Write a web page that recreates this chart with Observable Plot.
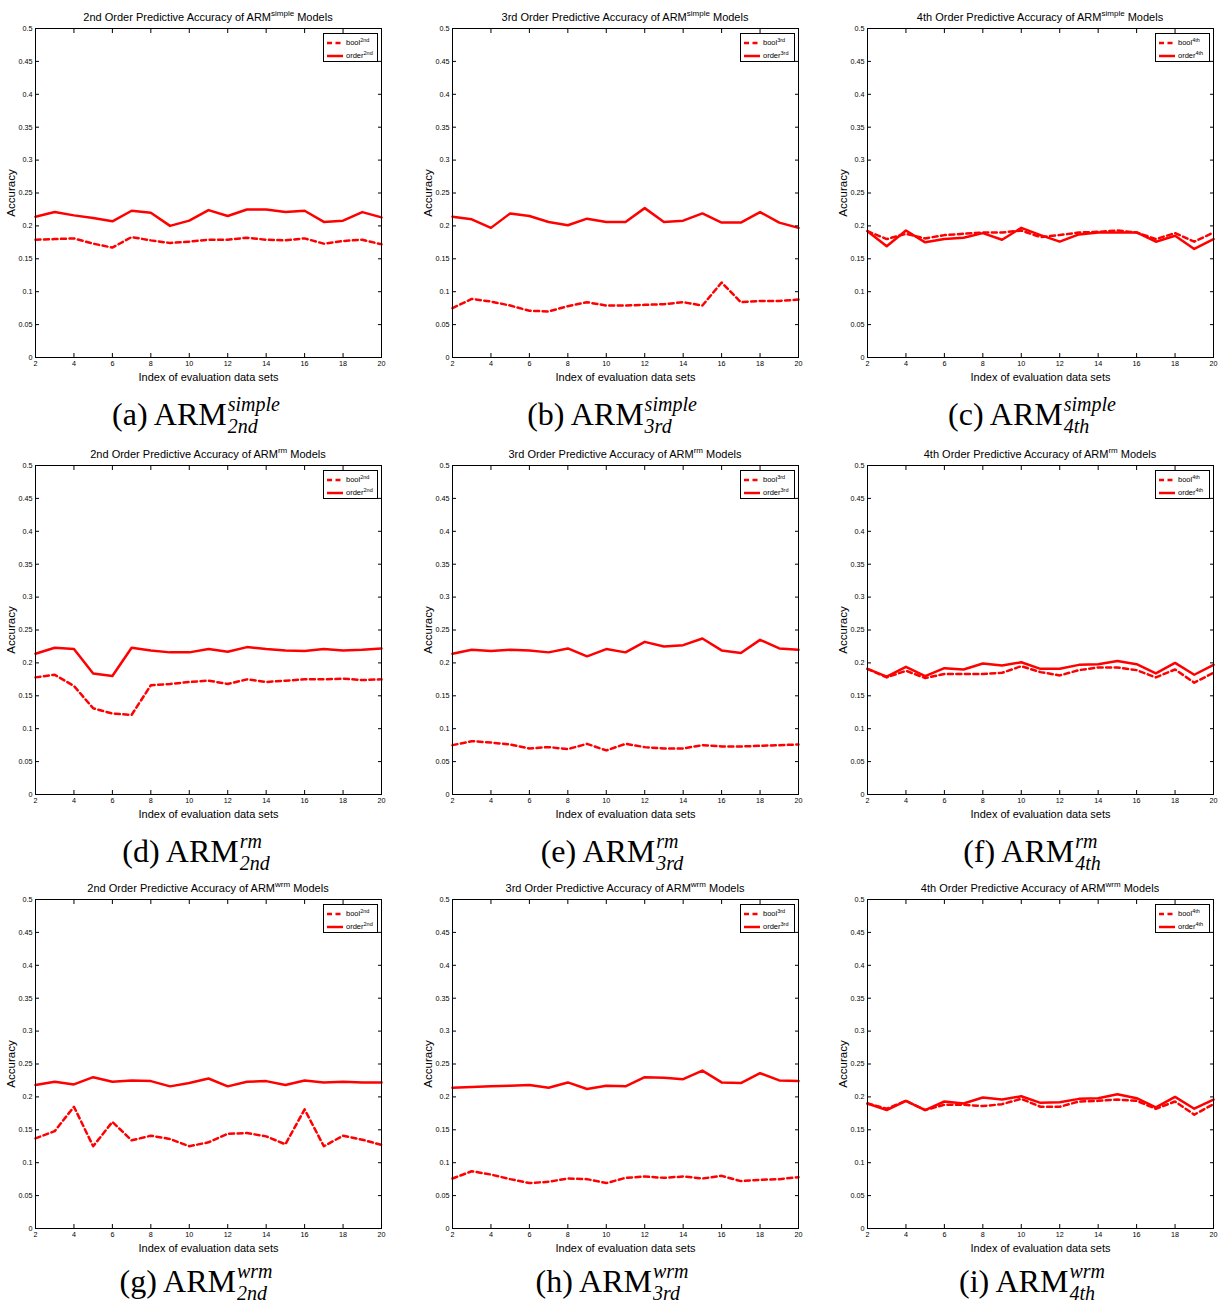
<!DOCTYPE html>
<html><head><meta charset="utf-8">
<script src="https://cdn.jsdelivr.net/npm/d3@7"></script>
<script src="https://cdn.jsdelivr.net/npm/@observablehq/plot@0.6"></script>
<style>
body{margin:0;background:#fff;}
#root{position:relative;width:1225px;height:1308px;overflow:hidden;font-family:"Liberation Sans",Arial,sans-serif;color:#000;}
.title{position:absolute;width:400px;font-size:11px;line-height:14px;text-align:center;white-space:nowrap;}
.title sup{font-size:8px;vertical-align:5px;line-height:0;}
.legend{position:absolute;border:1px solid #000;background:#fff;box-sizing:border-box;font-size:7.5px;padding-top:2px;}
.legend .lr{height:13px;display:flex;align-items:center;white-space:nowrap;}
.legend svg{margin:0 2px 0 2px;}
.legend sup{font-size:5.5px;vertical-align:3.5px;line-height:0;}
.cap{position:absolute;width:400px;text-align:center;font-family:"Liberation Serif","DejaVu Serif",serif;font-size:32px;line-height:64px;white-space:nowrap;}
.ss{display:inline-block;vertical-align:-8px;line-height:22.5px;font-size:20px;font-style:italic;text-align:left;margin-left:1px;}
.ss span{display:block;}
.panel{position:absolute;}
</style>
</head><body><div id="root"></div>
<script>
// ---------- data ----------
const dataSetIndex = [2,3,4,5,6,7,8,9,10,11,12,13,14,15,16,17,18,19,20];
const xTickValues = [2,4,6,8,10,12,14,16,18,20];
const yTickValues = [0,0.05,0.1,0.15,0.2,0.25,0.3,0.35,0.4,0.45,0.5];
const modelTypes = ["simple","rm","wrm"];
const orderNames = ["2nd","3rd","4th"];
const panelLetters = ["a","b","c","d","e","f","g","h","i"];
const xLabel = "Index of evaluation data sets";
const yLabel = "Accuracy";

// ARM simple
const simple2Bool  = [0.179,0.180,0.181,0.173,0.167,0.183,0.178,0.174,0.176,0.179,0.179,0.182,0.179,0.178,0.181,0.173,0.177,0.179,0.172];
const simple2Order = [0.214,0.221,0.216,0.212,0.207,0.223,0.220,0.200,0.208,0.224,0.215,0.225,0.225,0.221,0.223,0.206,0.208,0.221,0.213];
const simple3Bool  = [0.075,0.089,0.085,0.079,0.071,0.070,0.078,0.084,0.079,0.079,0.080,0.081,0.084,0.079,0.114,0.084,0.086,0.086,0.088];
const simple3Order = [0.214,0.210,0.197,0.219,0.215,0.206,0.201,0.211,0.206,0.206,0.227,0.206,0.208,0.219,0.205,0.205,0.221,0.205,0.197];
const simple4Bool  = [0.192,0.180,0.188,0.181,0.186,0.188,0.190,0.190,0.193,0.183,0.186,0.190,0.191,0.193,0.190,0.180,0.189,0.176,0.190];
const simple4Order = [0.192,0.169,0.193,0.175,0.180,0.182,0.189,0.179,0.197,0.186,0.176,0.187,0.190,0.190,0.190,0.176,0.185,0.165,0.180];
// ARM rm
const rm2Bool  = [0.178,0.182,0.165,0.131,0.123,0.121,0.166,0.168,0.171,0.173,0.168,0.175,0.171,0.173,0.175,0.175,0.176,0.174,0.175];
const rm2Order = [0.214,0.223,0.221,0.184,0.180,0.223,0.219,0.216,0.216,0.221,0.217,0.224,0.221,0.219,0.218,0.221,0.219,0.220,0.222];
const rm3Bool  = [0.075,0.081,0.079,0.076,0.070,0.072,0.069,0.077,0.067,0.077,0.072,0.070,0.070,0.075,0.073,0.073,0.074,0.075,0.076];
const rm3Order = [0.214,0.220,0.218,0.220,0.219,0.216,0.222,0.210,0.221,0.216,0.232,0.225,0.227,0.237,0.219,0.215,0.235,0.222,0.220];
const rm4Bool  = [0.191,0.178,0.188,0.177,0.183,0.183,0.183,0.185,0.195,0.186,0.181,0.189,0.193,0.193,0.189,0.178,0.190,0.170,0.185];
const rm4Order = [0.191,0.179,0.194,0.180,0.192,0.190,0.199,0.196,0.201,0.191,0.191,0.197,0.198,0.203,0.198,0.184,0.200,0.182,0.197];
// ARM wrm
const wrm2Bool  = [0.137,0.148,0.185,0.125,0.162,0.134,0.141,0.136,0.125,0.131,0.144,0.145,0.140,0.128,0.181,0.125,0.141,0.135,0.127];
const wrm2Order = [0.218,0.223,0.219,0.230,0.223,0.225,0.224,0.216,0.221,0.228,0.216,0.223,0.224,0.218,0.225,0.222,0.223,0.222,0.222];
const wrm3Bool  = [0.076,0.087,0.082,0.075,0.069,0.071,0.076,0.075,0.069,0.077,0.079,0.077,0.079,0.076,0.080,0.072,0.074,0.075,0.078];
const wrm3Order = [0.214,0.215,0.216,0.217,0.218,0.214,0.222,0.212,0.217,0.216,0.230,0.229,0.227,0.240,0.222,0.221,0.236,0.225,0.224];
const wrm4Bool  = [0.190,0.182,0.194,0.180,0.188,0.188,0.186,0.189,0.197,0.185,0.185,0.193,0.194,0.196,0.194,0.182,0.193,0.173,0.189];
const wrm4Order = [0.190,0.180,0.194,0.180,0.193,0.190,0.199,0.196,0.201,0.191,0.192,0.197,0.198,0.204,0.198,0.184,0.200,0.182,0.196];

const seriesGrid = [
  [[simple2Bool, simple2Order],[simple3Bool, simple3Order],[simple4Bool, simple4Order]],
  [[rm2Bool, rm2Order],[rm3Bool, rm3Order],[rm4Bool, rm4Order]],
  [[wrm2Bool, wrm2Order],[wrm3Bool, wrm3Order],[wrm4Bool, wrm4Order]]
];

// ---------- layout ----------
const plotLeft = [35, 452, 867];
const plotTop = [28, 465, 899];
const plotW = 346, plotH = 329;
const mL = 35, mR = 10, mT = 10, mB = 35;
const capCenter = [196, 612, 1032];
const capBaseline = [424, 861, 1291];
const RED = "#ff0000";
const DASH = "5,3.5";
const LW = 2.5;

const root = document.getElementById("root");

for (let r = 0; r < 3; r++) {
  for (let c = 0; c < 3; c++) {
    const [boolVals, orderVals] = seriesGrid[r][c];
    const model = modelTypes[r], ord = orderNames[c];
    const rows = dataSetIndex.map((x, i) => ({x, bool: boolVals[i], order: orderVals[i]}));

    const svg = Plot.plot({
      width: mL + plotW + mR, height: mT + plotH + mB,
      marginLeft: mL, marginRight: mR, marginTop: mT, marginBottom: mB,
      x: {type: "linear", domain: [2, 20]},
      y: {type: "linear", domain: [0, 0.5]},
      style: {fontFamily: "'Liberation Sans', Arial, sans-serif", background: "transparent", overflow: "visible", color: "#000"},
      marks: [
        Plot.line(rows, {x: "x", y: "bool", stroke: RED, strokeWidth: LW, strokeDasharray: DASH}),
        Plot.line(rows, {x: "x", y: "order", stroke: RED, strokeWidth: LW}),
        Plot.axisX({anchor: "bottom", ticks: xTickValues, tickSize: -4, tickPadding: 7, fontSize: 7.2, label: null, tickFormat: d => String(d)}),
        Plot.axisX({anchor: "top", ticks: xTickValues, tickSize: -4, fill: "none", label: null}),
        Plot.axisY({anchor: "left", ticks: yTickValues, tickSize: -4, tickPadding: 7, fontSize: 7.2, label: null, tickFormat: d => String(d)}),
        Plot.axisY({anchor: "right", ticks: yTickValues, tickSize: -4, fill: "none", label: null}),
        Plot.frame({stroke: "#000", strokeWidth: 1}),
        Plot.text([xLabel], {frameAnchor: "bottom", lineAnchor: "middle", textAnchor: "middle", dy: 20, fontSize: 11, fill: "#000"}),
        Plot.text([yLabel], {frameAnchor: "left", lineAnchor: "middle", textAnchor: "middle", rotate: -90, dx: -24, fontSize: 11.5, fill: "#000"})
      ]
    });
    const wrap = document.createElement("div");
    wrap.className = "panel";
    wrap.style.left = (plotLeft[c] - mL) + "px";
    wrap.style.top = (plotTop[r] - mT) + "px";
    wrap.appendChild(svg);
    root.appendChild(wrap);

    // title
    const t = document.createElement("div");
    t.className = "title";
    t.style.left = (plotLeft[c] + plotW / 2 - 200) + "px";
    t.style.top = (plotTop[r] - 18) + "px";
    t.innerHTML = `${ord} Order Predictive Accuracy of ARM<sup>${model}</sup> Models`;
    root.appendChild(t);

    // legend
    const lg = document.createElement("div");
    lg.className = "legend";
    const lw = 55, lh = 29;
    lg.style.width = lw + "px";
    lg.style.height = lh + "px";
    lg.style.left = (plotLeft[c] + plotW - 3 - lw) + "px";
    lg.style.top = (plotTop[r] + 5) + "px";
    const sw = (dash) => `<svg width="18" height="6"><line x1="1" x2="17" y1="3" y2="3" stroke="${RED}" stroke-width="${LW}" ${dash ? `stroke-dasharray="${DASH}"` : ""}/></svg>`;
    lg.innerHTML = `<div class="lr">${sw(true)}<span>bool<sup>${ord}</sup></span></div><div class="lr">${sw(false)}<span>order<sup>${ord}</sup></span></div>`;
    root.appendChild(lg);

    // caption
    const cap = document.createElement("div");
    cap.className = "cap";
    cap.style.left = (capCenter[c] - 200) + "px";
    cap.style.top = (capBaseline[r] - 42) + "px";
    cap.innerHTML = `(${panelLetters[r * 3 + c]}) ARM<span class="ss"><span>${model}</span><span>${ord}</span></span>`;
    root.appendChild(cap);
  }
}
</script>
</body></html>
